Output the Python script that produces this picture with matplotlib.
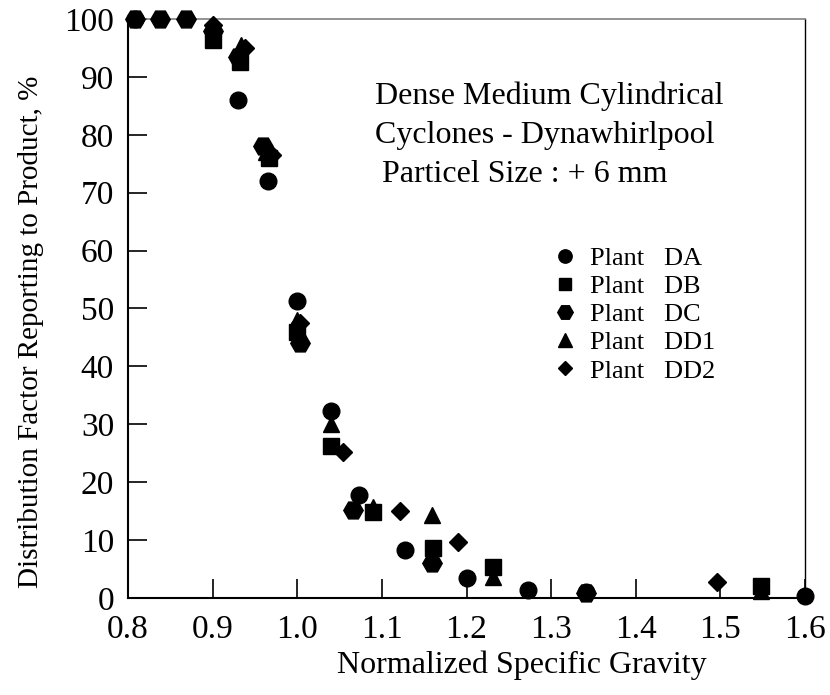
import matplotlib
matplotlib.use('Agg')
import matplotlib.pyplot as plt

plt.rcParams['font.family'] = ['Liberation Serif', 'DejaVu Serif']

# normalized SG vs distribution factor (%) per plant
da_x = [0.808, 0.930, 0.965, 1.000, 1.040, 1.073, 1.127, 1.200, 1.273, 1.341, 1.600]
da_y = [100.0, 86.0, 72.0, 51.3, 32.3, 17.8, 8.3, 3.5, 1.4, 1.0, 0.4]

db_x = [0.900, 0.932, 0.967, 1.000, 1.040, 1.090, 1.160, 1.231, 1.548]
db_y = [96.4, 92.6, 76.0, 46.0, 26.2, 14.8, 8.6, 5.4, 2.0]

dc_x = [0.808, 0.838, 0.869, 0.900, 0.930, 0.960, 1.003, 1.066, 1.159, 1.341]
dc_y = [100.0, 100.0, 100.0, 98.0, 93.5, 78.0, 44.0, 15.2, 6.0, 0.8]

dd1_x = [0.900, 0.934, 0.963, 1.000, 1.040, 1.090, 1.159, 1.231, 1.548]
dd1_y = [98.5, 95.5, 77.0, 48.0, 30.0, 15.7, 14.3, 3.7, 1.2]

dd2_x = [0.900, 0.938, 0.970, 1.003, 1.054, 1.121, 1.190, 1.496]
dd2_y = [99.0, 95.0, 76.5, 47.5, 25.2, 15.0, 9.7, 2.8]

series = [
    ('Plant   DA', da_x, da_y, 'o', 12),
    ('Plant   DB', db_x, db_y, 's', 11),
    ('Plant   DC', dc_x, dc_y, 'H', 14),
    ('Plant   DD1', dd1_x, dd1_y, '^', 12),
    ('Plant   DD2', dd2_x, dd2_y, 'D', 9),
]

x_ticks = [0.8, 0.9, 1.0, 1.1, 1.2, 1.3, 1.4, 1.5, 1.6]
y_ticks = [0, 10, 20, 30, 40, 50, 60, 70, 80, 90, 100]

fig = plt.figure(figsize=(8.3, 6.95), dpi=100)
ax = fig.add_axes([0.1542, 0.1396, 0.8157, 0.8331])

for label, xs, ys, mk, ms in series:
    ax.plot(xs, ys, linestyle='none', marker=mk, markersize=ms,
            color='black', label=label, clip_on=False, zorder=3)

ax.set_xlim(0.8, 1.6)
ax.set_ylim(0, 100)
ax.set_xticks(x_ticks)
ax.set_xticklabels(['%.1f' % v for v in x_ticks])
ax.set_yticks(y_ticks)

ax.tick_params(axis='both', direction='in', length=14, width=1.2,
               labelsize=24, color='black')
ax.tick_params(axis='x', pad=12)
ax.tick_params(axis='y', pad=10)

for side in ['left', 'bottom']:
    ax.spines[side].set_linewidth(1.5)
ax.spines['right'].set_linewidth(1.0)
ax.spines['top'].set_linewidth(1.2)
ax.spines['top'].set_color('#808080')

ax.set_xlabel('Normalized Specific Gravity', fontsize=23, va='center')
ax.xaxis.set_label_coords(0.582, -0.1157)
ax.set_ylabel('Distribution Factor Reporting to Product, %', fontsize=21, va='center')
ax.yaxis.set_label_coords(-0.143, 0.459)

ax.text(0.3648, 0.854, 'Dense Medium Cylindrical', transform=ax.transAxes,
        fontsize=23, va='baseline', ha='left')
ax.text(0.3648, 0.785, 'Cyclones - Dynawhirlpool', transform=ax.transAxes,
        fontsize=23, va='baseline', ha='left')
ax.text(0.375, 0.7176, 'Particel Size : + 6 mm', transform=ax.transAxes,
        fontsize=23, va='baseline', ha='left')

leg = ax.legend(loc='upper left', bbox_to_anchor=(0.601, 0.639), frameon=False,
                fontsize=19, handletextpad=0.49, labelspacing=0.177,
                handlelength=0.9, markerscale=0.8, borderpad=0.2)

fig.savefig('out.png', dpi=100)
